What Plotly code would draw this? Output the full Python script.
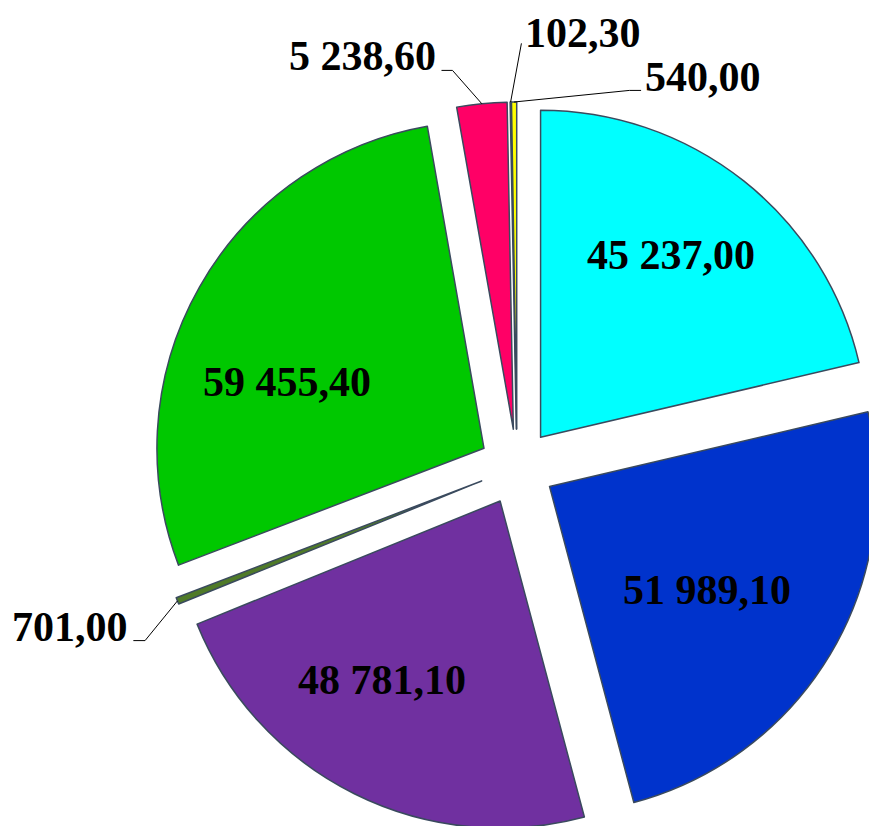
import math
import plotly.graph_objects as go

# ---- data ----
labels = ["A", "B", "C", "D", "E", "F", "G", "H"]
values = [45237.00, 51989.10, 48781.10, 701.00, 59455.40, 5238.60, 102.30, 540.00]
value_text = ["45 237,00", "51 989,10", "48 781,10", "701,00", "59 455,40", "5 238,60", "102,30", "540,00"]
colors = ["#00FFFF", "#0033CC", "#7030A0", "#4F7A28", "#00C800", "#FF0066", "#1F3864", "#FFFF00"]

# ---- layout / style ----
W, H = 877, 826
PULL = 0.116
DOM_X = [0.1642, 0.9966]
DOM_Y = [0.0024, 0.8862]
FONT = dict(family="Liberation Serif", size=42, color="black", weight="bold")

# label placement (pixel offsets)
inside_offsets = {0: (130, -182), 1: (157.5, 103.5), 2: (-118, 179), 4: (-197, -66)}
# outside: (leader points relative to slice outer point, text anchor offset, xanchor)
outside_specs = {
    3: ([(-32.4, 39.7), (-44.1, 39.7)], (-47.4, 25.7), "right"),
    5: ([(-29.3, -33.3), (-40.3, -33.3)], (-43.3, -47.8), "right"),
    6: ([(10.8, -58.7)], (12.8, -69.2), "left"),
    7: ([(115.3, -11.6), (127, -11.6)], (129, -24.6), "left"),
}

fig = go.Figure(go.Pie(
    labels=labels,
    values=values,
    sort=False,
    direction="clockwise",
    rotation=0,
    pull=[PULL] * len(values),
    marker=dict(colors=colors, line=dict(color="#3A4A5E", width=1.5)),
    textinfo="none",
    domain=dict(x=DOM_X, y=DOM_Y),
    hoverinfo="skip",
))

# geometry of the pie as plotly lays it out (figure pixels)
box_w = W * (DOM_X[1] - DOM_X[0])
box_h = H * (DOM_Y[1] - DOM_Y[0])
r = min(box_w, box_h) / 2 / (1 + PULL)
cx = W * (DOM_X[0] + DOM_X[1]) / 2
cy = H * (1 - DOM_Y[0]) - box_h / 2


def to_paper(x, y):
    return x / W, 1 - y / H


total = sum(values)
cum = 0.0
for i, v in enumerate(values):
    mid = math.radians((cum + v / 2) / total * 360)
    cum += v
    sx, sy = math.sin(mid), -math.cos(mid)
    vx, vy = cx + PULL * r * sx, cy + PULL * r * sy  # pulled vertex
    ox, oy = vx + r * sx, vy + r * sy              # outer mid point
    if i in inside_offsets:
        dx, dy = inside_offsets[i]
        px, py = to_paper(vx + dx, vy + dy)
        fig.add_annotation(x=px, y=py, xref="paper", yref="paper", text=value_text[i],
                           showarrow=False, xanchor="center", yanchor="middle", font=FONT)
    elif i in outside_specs:
        pts, (tx, ty), xa = outside_specs[i]
        path_pts = [(ox, oy)] + [(ox + a, oy + b) for a, b in pts]
        path = ""
        for k, (a, b) in enumerate(path_pts):
            pa, pb = to_paper(a, b)
            path += ("M" if k == 0 else " L") + f"{pa:.5f},{pb:.5f}"
        fig.add_shape(type="path", path=path, xref="paper", yref="paper",
                      line=dict(color="black", width=1))
        px, py = to_paper(ox + tx, oy + ty)
        fig.add_annotation(x=px, y=py, xref="paper", yref="paper", text=value_text[i],
                           showarrow=False, xanchor=xa, yanchor="middle", font=FONT)

fig.update_layout(
    width=W,
    height=H,
    margin=dict(l=0, r=0, t=0, b=0),
    paper_bgcolor="white",
    plot_bgcolor="white",
    showlegend=False,
)

fig.write_html("out.html")
